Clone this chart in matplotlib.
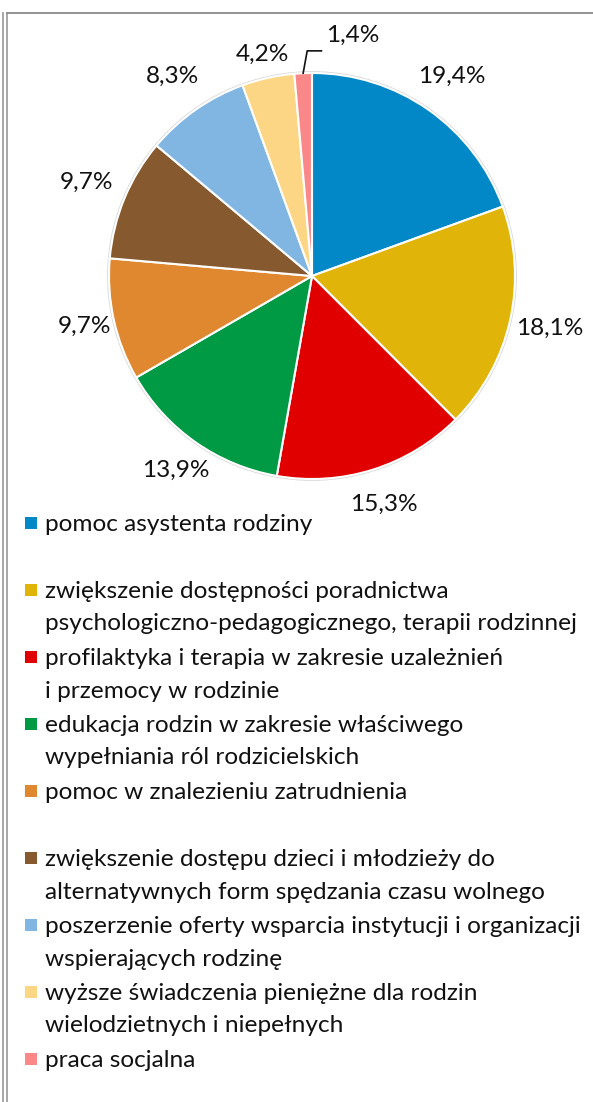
import matplotlib
matplotlib.use("Agg")
import matplotlib.pyplot as plt
import numpy as np

plt.rcParams['font.family'] = ['Lato', 'DejaVu Sans']

# answers (counts out of 72), shown as percentages
counts = [14, 13, 11, 10, 7, 7, 6, 3, 1]
pct_labels = ["19,4%", "18,1%", "15,3%", "13,9%", "9,7%", "9,7%", "8,3%", "4,2%", "1,4%"]
categories = [
    "pomoc asystenta rodziny",
    "zwiększenie dostępności poradnictwa\npsychologiczno-pedagogicznego, terapii rodzinnej",
    "profilaktyka i terapia w zakresie uzależnień\ni przemocy w rodzinie",
    "edukacja rodzin w zakresie właściwego\nwypełniania ról rodzicielskich",
    "pomoc w znalezieniu zatrudnienia",
    "zwiększenie dostępu dzieci i młodzieży do\nalternatywnych form spędzania czasu wolnego",
    "poszerzenie oferty wsparcia instytucji i organizacji\nwspierających rodzinę",
    "wyższe świadczenia pieniężne dla rodzin\nwielodzietnych i niepełnych",
    "praca socjalna",
]
colors = ["#0288C7", "#E0B408", "#E00000", "#009944", "#E0882F",
          "#87592E", "#82B6E2", "#FCD684", "#FA8888"]

W, H = 593, 1102
cx, cy, R = 312, 276, 203  # pie centre / radius in pixels
FS = 17.6


def px(x, y):
    # pixel position -> data units of the pie axes
    return (x - cx) / R, (cy - y) / R


fig = plt.figure(figsize=(W / 100, H / 100), dpi=100)
ax = fig.add_axes([0, 0, 1, 1])

wedges, _ = ax.pie(counts, colors=colors, startangle=90, counterclock=False,
                   wedgeprops=dict(edgecolor="white", linewidth=1.5))
ax.add_patch(plt.Circle((0, 0), 1.005, fill=False, edgecolor="#d9d9d9", lw=1.2, zorder=0))

# percent labels, just outside each slice
dists = [1.2, 1.2, 1.18, 1.17, 1.15, 1.2, 1.2, 1.12]
for w, lab, d in zip(wedges[:-1], pct_labels[:-1], dists):
    a = np.deg2rad((w.theta1 + w.theta2) / 2)
    ax.text(d * np.cos(a), d * np.sin(a), lab, ha="center", va="center",
            fontsize=FS, color="#111111")

# smallest slice gets a leader line
w = wedges[-1]
a = np.deg2rad((w.theta1 + w.theta2) / 2)
x0, y0 = np.cos(a), np.sin(a)
x1, y1 = x0 + 0.02, y0 + 0.11
x2 = x1 + 0.07
ax.plot([x0, x1, x2], [y0, y1, y1], color="#111111", lw=1.2)
ax.text(x2 + 0.025, y1 + 0.075, pct_labels[-1], ha="left", va="center",
        fontsize=FS, color="#111111")

# legend, fixed slot per entry
for i, (lab, col) in enumerate(zip(categories, colors)):
    base = 531 + 67 * i
    sx, sy = px(25, 517 + 67 * i)
    ax.add_patch(plt.Rectangle((sx, sy - 12 / R), 12 / R, 12 / R, color=col, lw=0))
    for j, line in enumerate(lab.split("\n")):
        tx, ty = px(45, base + 32.5 * j)
        ax.text(tx, ty, line, ha="left", va="baseline", fontsize=FS, color="#111111")

# frame lines of the original table cell
for xl in (3.3, 6.8):
    ax.plot(*zip(px(xl, 12.5), px(xl, H)), color="#a0a0a0", lw=1.3)
ax.plot(*zip(px(6.8, 13.3), px(W, 13.3)), color="#8a8a8a", lw=1.3)

ax.set_xlim(-cx / R, (W - cx) / R)
ax.set_ylim(-(H - cy) / R, cy / R)
ax.set_aspect("auto")
ax.axis("off")

fig.savefig("out.png", dpi=100, facecolor="white")
